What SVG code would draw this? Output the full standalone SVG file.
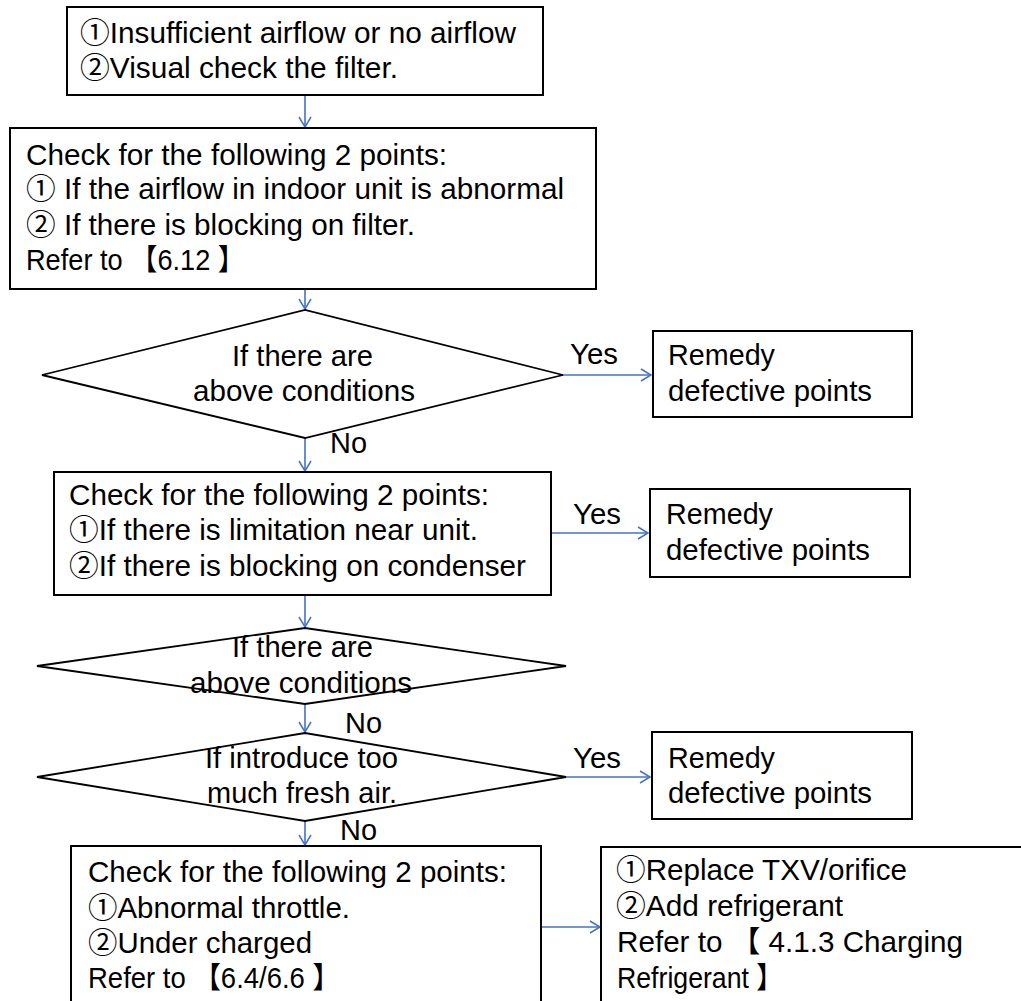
<svg xmlns="http://www.w3.org/2000/svg" width="1021" height="1001" viewBox="0 0 1021 1001">
<defs>
<marker id="ah" markerWidth="14" markerHeight="14" refX="12" refY="7" orient="auto" markerUnits="userSpaceOnUse">
<polyline points="2,1 12,7 2,13" fill="none" stroke="#4472C4" stroke-width="1.5"/>
</marker>
<style>
.box{fill:#fff;stroke:#000;stroke-width:2}
.dia{fill:#fff;stroke:#000;stroke-width:1.8}
.t{font-family:"Liberation Sans","Noto Sans CJK SC",Arial,sans-serif;font-size:29.5px;fill:#000}
.c{text-anchor:middle}
.ln{stroke:#4472C4;stroke-width:1.6;fill:none;marker-end:url(#ah)}
</style>
</defs>
<rect width="1021" height="1001" fill="#fff"/>
<g id="connectors">
<line class="ln" x1="305" y1="95" x2="305" y2="127"/>
<line class="ln" x1="305" y1="289" x2="305" y2="309"/>
<line class="ln" x1="563" y1="375" x2="651" y2="375"/>
<line class="ln" x1="305" y1="438" x2="305" y2="471"/>
<line class="ln" x1="551" y1="533" x2="648" y2="533"/>
<line class="ln" x1="305" y1="595" x2="305" y2="627"/>
<line class="ln" x1="305" y1="704" x2="305" y2="732"/>
<line class="ln" x1="566" y1="777" x2="650" y2="777"/>
<line class="ln" x1="305" y1="821" x2="305" y2="845"/>
<line class="ln" x1="541" y1="927" x2="600" y2="927"/>
<text class="t" x="570" y="364" textLength="48" lengthAdjust="spacingAndGlyphs">Yes</text>
<text class="t" x="330" y="453" textLength="37" lengthAdjust="spacingAndGlyphs">No</text>
<text class="t" x="573" y="524" textLength="48" lengthAdjust="spacingAndGlyphs">Yes</text>
<text class="t" x="345" y="733" textLength="37" lengthAdjust="spacingAndGlyphs">No</text>
<text class="t" x="573" y="768" textLength="48" lengthAdjust="spacingAndGlyphs">Yes</text>
<text class="t" x="340" y="840" textLength="37" lengthAdjust="spacingAndGlyphs">No</text>
</g>
<g id="n1">
<rect class="box" x="67" y="7" width="476" height="88"/>
<text class="t" x="80" y="43" textLength="436" lengthAdjust="spacingAndGlyphs">①Insufficient airflow or no airflow</text>
<text class="t" x="80" y="78" textLength="318" lengthAdjust="spacingAndGlyphs">②Visual check the filter.</text>
</g>
<g id="n2">
<rect class="box" x="10" y="128" width="586" height="161"/>
<text class="t" x="26" y="165" textLength="421" lengthAdjust="spacingAndGlyphs">Check for the following 2 points:</text>
<text class="t" x="26" y="199" textLength="538" lengthAdjust="spacingAndGlyphs">① If the airflow in indoor unit is abnormal</text>
<text class="t" x="26" y="235" textLength="389" lengthAdjust="spacingAndGlyphs">② If there is blocking on filter.</text>
<text class="t" x="26" y="270" textLength="219" lengthAdjust="spacingAndGlyphs">Refer to 【6.12 】</text>
</g>
<g id="d1">
<polygon class="dia" points="42,375 305,310 563,375 305,438"/>
<text class="t c" x="302.5" y="366" textLength="141" lengthAdjust="spacingAndGlyphs">If there are</text>
<text class="t c" x="304" y="401" textLength="222" lengthAdjust="spacingAndGlyphs">above conditions</text>
</g>
<g id="r1">
<rect class="box" x="653" y="331" width="259" height="86"/>
<text class="t" x="668" y="365" textLength="107" lengthAdjust="spacingAndGlyphs">Remedy</text>
<text class="t" x="668" y="401" textLength="204" lengthAdjust="spacingAndGlyphs">defective points</text>
</g>
<g id="n3">
<rect class="box" x="54" y="472" width="497" height="123"/>
<text class="t" x="69" y="505" textLength="420" lengthAdjust="spacingAndGlyphs">Check for the following 2 points:</text>
<text class="t" x="69" y="540" textLength="409" lengthAdjust="spacingAndGlyphs">①If there is limitation near unit.</text>
<text class="t" x="69" y="576" textLength="457" lengthAdjust="spacingAndGlyphs">②If there is blocking on condenser</text>
</g>
<g id="r2">
<rect class="box" x="650" y="489" width="260" height="88"/>
<text class="t" x="666" y="524" textLength="107" lengthAdjust="spacingAndGlyphs">Remedy</text>
<text class="t" x="666" y="560" textLength="204" lengthAdjust="spacingAndGlyphs">defective points</text>
</g>
<g id="d2">
<polygon class="dia" points="37,666 305,628 566,666 305,704"/>
<text class="t c" x="302.5" y="657" textLength="141" lengthAdjust="spacingAndGlyphs">If there are</text>
<text class="t c" x="301" y="693" textLength="222" lengthAdjust="spacingAndGlyphs">above conditions</text>
</g>
<g id="d3">
<polygon class="dia" points="37,777 305,733 566,777 305,821"/>
<text class="t c" x="301.5" y="768" textLength="193" lengthAdjust="spacingAndGlyphs">If introduce too</text>
<text class="t c" x="302" y="803" textLength="190" lengthAdjust="spacingAndGlyphs">much fresh air.</text>
</g>
<g id="r3">
<rect class="box" x="652" y="732" width="260" height="87"/>
<text class="t" x="668" y="768" textLength="107" lengthAdjust="spacingAndGlyphs">Remedy</text>
<text class="t" x="668" y="803" textLength="204" lengthAdjust="spacingAndGlyphs">defective points</text>
</g>
<g id="n4">
<rect class="box" x="71" y="846" width="470" height="160"/>
<text class="t" x="88" y="882" textLength="419" lengthAdjust="spacingAndGlyphs">Check for the following 2 points:</text>
<text class="t" x="88" y="918" textLength="262" lengthAdjust="spacingAndGlyphs">①Abnormal throttle.</text>
<text class="t" x="88" y="953" textLength="224" lengthAdjust="spacingAndGlyphs">②Under charged</text>
<text class="t" x="88" y="988" textLength="252" lengthAdjust="spacingAndGlyphs">Refer to 【6.4/6.6 】</text>
</g>
<g id="n5">
<rect class="box" x="601" y="847" width="430" height="160"/>
<text class="t" x="616" y="880" textLength="291" lengthAdjust="spacingAndGlyphs">①Replace TXV/orifice</text>
<text class="t" x="616" y="916" textLength="227" lengthAdjust="spacingAndGlyphs">②Add refrigerant</text>
<text class="t" x="617" y="952" textLength="346" lengthAdjust="spacingAndGlyphs">Refer to 【 4.1.3 Charging</text>
<text class="t" x="617" y="988" textLength="166" lengthAdjust="spacingAndGlyphs">Refrigerant 】</text>
</g>
</svg>
